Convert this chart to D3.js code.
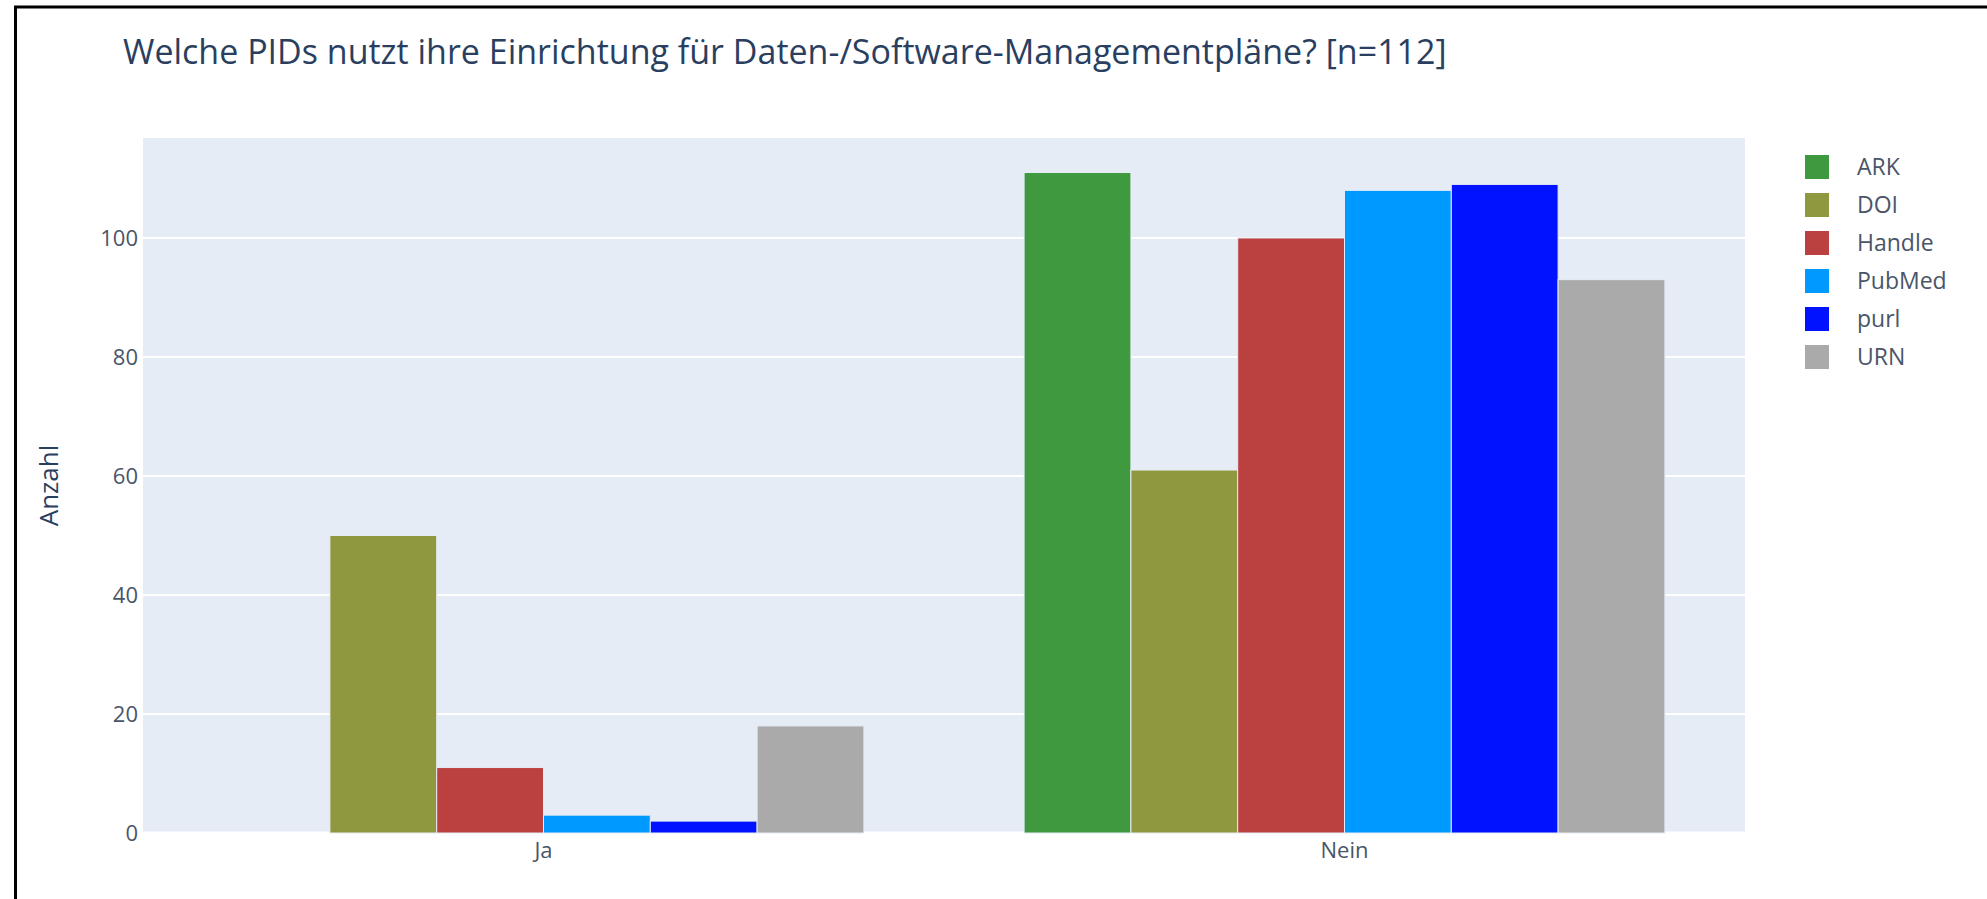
<!DOCTYPE html>
<html>
<head>
<meta charset="utf-8">
<script src="https://cdn.jsdelivr.net/npm/d3@7"></script>
<style>
  body { margin: 0; background: #fff; }
  svg { display: block; font-family: "Open Sans", sans-serif; }
</style>
</head>
<body>
<svg width="1987" height="899"></svg>
<script>
const categories = ['Ja', 'Nein'];
const series = ['ARK', 'DOI', 'Handle', 'PubMed', 'purl', 'URN'];
const colors = ['#3f993f', '#8f983f', '#bb4040', '#0099ff', '#0012ff', '#aaaaaa'];
const valuesJa = [0, 50, 11, 3, 2, 18];
const valuesNein = [111, 61, 100, 108, 109, 93];
const yTicks = [0, 20, 40, 60, 80, 100];

const svg = d3.select('svg');
const width = +svg.attr('width');
const height = +svg.attr('height');
const plot = {left: 143, right: 1745, top: 138, bottom: 833};
const textColor = '#2a3f5f';
const tickColor = '#4a5568';

// frame lines visible in the screenshot
svg.append('line')
  .attr('x1', 15.5).attr('x2', 15.5).attr('y1', 6).attr('y2', height)
  .attr('stroke', '#000').attr('stroke-width', 3);
svg.append('line')
  .attr('x1', 14).attr('x2', width).attr('y1', 7).attr('y2', 7)
  .attr('stroke', '#000').attr('stroke-width', 3);

const rows = categories.map((c, i) => ({
  cat: c,
  vals: series.map((s, j) => ({s, i: j, v: i === 0 ? valuesJa[j] : valuesNein[j]}))
}));

const x0 = d3.scaleBand()
  .domain(categories)
  .range([plot.left, plot.right]);
const bw = x0.bandwidth();
const x1 = d3.scaleBand()
  .domain(series)
  .range([bw * 0.1, bw * 0.9]);
const y = d3.scaleLinear()
  .domain([0, 116.8])
  .range([plot.bottom, plot.top]);

svg.append('rect')
  .attr('x', plot.left).attr('y', plot.top)
  .attr('width', plot.right - plot.left).attr('height', plot.bottom - plot.top)
  .attr('fill', '#e5ecf6');

// grid
svg.append('g')
  .selectAll('line')
  .data(yTicks.filter(d => d > 0))
  .enter()
    .append('line')
    .attr('x1', plot.left).attr('x2', plot.right)
    .attr('y1', d => y(d)).attr('y2', d => y(d))
    .attr('stroke', '#fff').attr('stroke-width', 2);
svg.append('line')
  .attr('x1', plot.left).attr('x2', plot.right)
  .attr('y1', y(0)).attr('y2', y(0))
  .attr('stroke', '#fff').attr('stroke-width', 3);

// y axis
const yAxis = svg.append('g')
  .attr('transform', `translate(${plot.left},0)`)
  .call(d3.axisLeft(y).tickValues(yTicks).tickSize(0).tickPadding(5));
yAxis.select('.domain').remove();
yAxis.selectAll('text')
  .attr('font-size', 22)
  .attr('font-family', '"Open Sans", sans-serif')
  .attr('fill', tickColor);

// x axis
const xAxis = svg.append('g')
  .attr('transform', `translate(0,${plot.bottom})`)
  .call(d3.axisBottom(x0).tickSize(0).tickPadding(9));
xAxis.select('.domain').remove();
xAxis.selectAll('text')
  .attr('font-size', 22)
  .attr('font-family', '"Open Sans", sans-serif')
  .attr('fill', tickColor);

// bars
svg.append('g')
  .selectAll('g')
  .data(rows)
  .enter()
    .append('g')
    .attr('transform', d => `translate(${x0(d.cat)},0)`)
    .selectAll('rect')
    .data(d => d.vals)
    .enter()
      .append('rect')
      .attr('x', d => x1(d.s))
      .attr('y', d => y(d.v))
      .attr('width', x1.bandwidth())
      .attr('height', d => y(0) - y(d.v))
      .attr('fill', d => colors[d.i])
      .attr('stroke', '#e5ecf6')
      .attr('stroke-width', d => d.v > 0 ? 1 : 0);

// title
svg.append('text')
  .attr('x', 123).attr('y', 64)
  .attr('font-size', 34)
  .attr('fill', textColor)
  .text('Welche PIDs nutzt ihre Einrichtung für Daten-/Software-Managementpläne? [n=112]');

// y axis title
svg.append('text')
  .attr('transform', `translate(58,${(plot.top + plot.bottom) / 2}) rotate(-90)`)
  .attr('text-anchor', 'middle')
  .attr('font-size', 26)
  .attr('fill', textColor)
  .text('Anzahl');

// legend
const legend = svg.append('g')
  .selectAll('g')
  .data(series)
  .enter()
    .append('g')
    .attr('transform', (d, i) => `translate(1805,${167 + i * 38})`);
legend.append('rect')
  .attr('x', 0).attr('y', -12)
  .attr('width', 24).attr('height', 24)
  .attr('fill', (d, i) => colors[i]);
legend.append('text')
  .attr('x', 52).attr('dy', '0.35em')
  .attr('font-size', 23)
  .attr('fill', tickColor)
  .text(d => d);
</script>
</body>
</html>
